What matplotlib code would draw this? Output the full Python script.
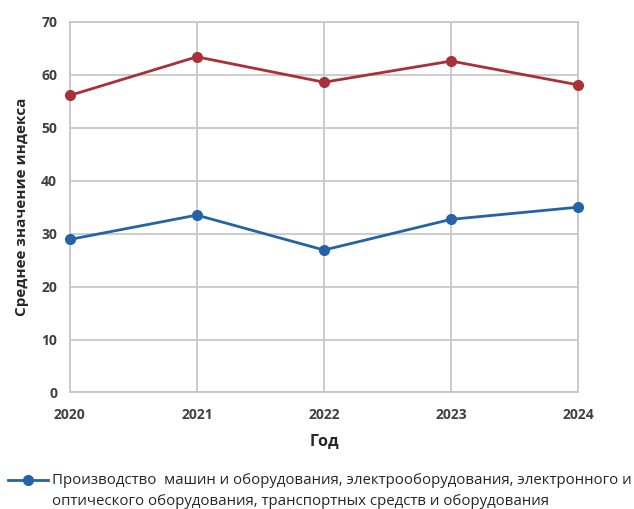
import matplotlib
matplotlib.use("Agg")
import matplotlib.pyplot as plt
from matplotlib.lines import Line2D

years = ["2020", "2021", "2022", "2023", "2024"]
red_values = [56.1, 63.4, 58.6, 62.6, 58.1]
blue_values = [28.9, 33.5, 26.9, 32.7, 35.0]
blue_label = ("Производство  машин и оборудования, электрооборудования, электронного и\n"
              "оптического оборудования, транспортных средств и оборудования")
yticks = [0, 10, 20, 30, 40, 50, 60, 70]

plt.rcParams['font.family'] = ['Open Sans', 'DejaVu Sans']

RED = "#A83038"
BLUE = "#2563A8"

fig = plt.figure(figsize=(6.34, 5.09), dpi=100)
ax = fig.add_axes([0.110, 0.229, 0.802, 0.728])

x = list(range(len(years)))
ax.plot(x, red_values, color=RED, lw=2, marker="o", ms=7, zorder=3, clip_on=False)
ax.plot(x, blue_values, color=BLUE, lw=2, marker="o", ms=7, zorder=3, clip_on=False)

ax.set_xlim(0, len(years) - 1)
ax.set_ylim(0, 70)
ax.set_xticks(x)
ax.set_xticklabels(years)
ax.set_yticks(yticks)
ax.grid(True, color="#C8C8C8", lw=1.3)
ax.set_axisbelow(True)
for s in ax.spines.values():
    s.set_color("#C8C8C8")
    s.set_linewidth(1.3)
ax.tick_params(axis="x", length=0, pad=11, labelsize=10, labelcolor="#404040")
ax.tick_params(axis="y", length=0, pad=9, labelsize=10, labelcolor="#404040")
for lbl in ax.get_xticklabels() + ax.get_yticklabels():
    lbl.set_fontweight("bold")

ax.set_xlabel("Год", fontsize=11.5, fontweight="bold", color="#262626", labelpad=9)
ax.set_ylabel("Среднее значение индекса", fontsize=11, fontweight="bold", color="#262626", labelpad=9)

# legend entry (handle aligned with first text line, as in the reference)
fig.add_artist(Line2D([8 / 634, 48 / 634], [0.057, 0.057], transform=fig.transFigure,
                      color=BLUE, lw=2))
fig.add_artist(Line2D([28 / 634], [0.057], transform=fig.transFigure,
                      color=BLUE, marker="o", ms=7, lw=0))
fig.text(52 / 634, 0.0354, blue_label, fontsize=10.8, color="#262626",
         va="center", ha="left", linespacing=1.55)

fig.savefig("out.png", dpi=100)
